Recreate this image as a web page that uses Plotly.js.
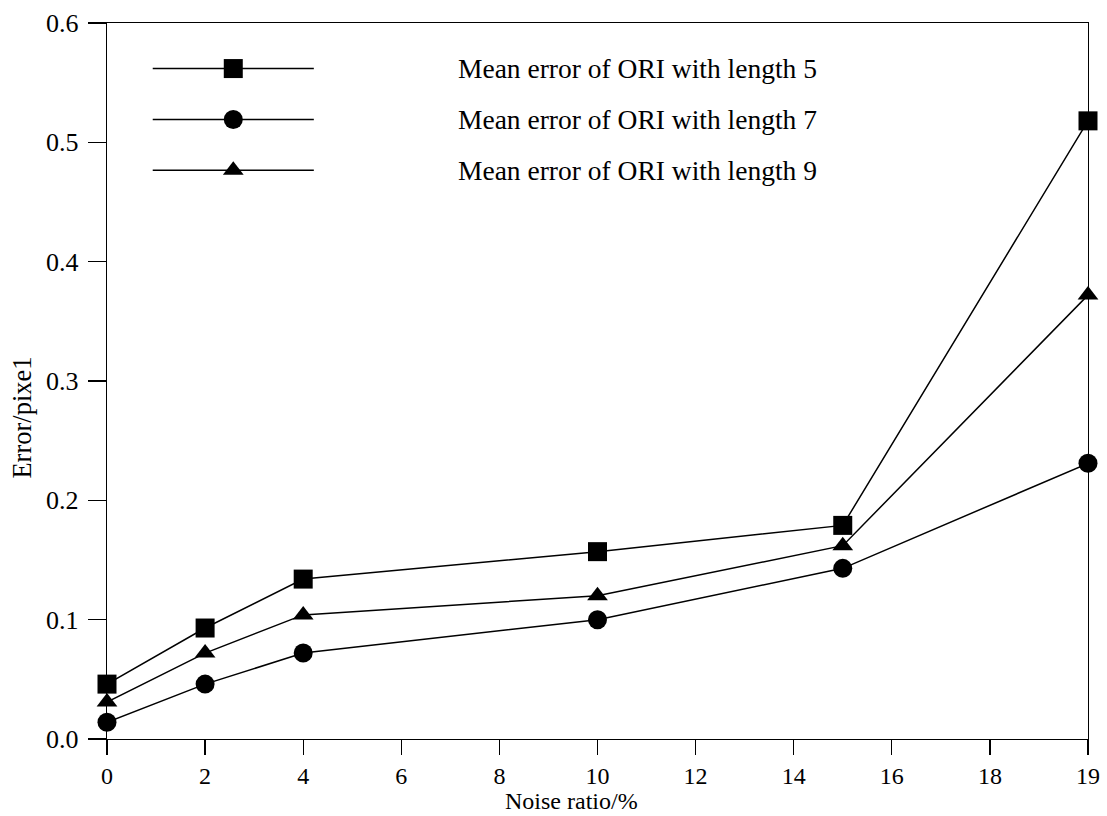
<!DOCTYPE html>
<html>
<head>
<meta charset="utf-8">
<script src="https://cdn.plot.ly/plotly-3.0.1.min.js"></script>
<style>html,body{margin:0;padding:0;background:#fff;}#chart{width:1107px;height:816px;}</style>
</head>
<body>
<div id="chart"></div>
<script>
// Axis slots of the noise ratios (the last slot is labelled 19 on the original axis)
const noisePos = [0, 2, 4, 10, 15, 20];
const tickVals = [0, 2, 4, 6, 8, 10, 12, 14, 16, 18, 20];
const tickText = ['0', '2', '4', '6', '8', '10', '12', '14', '16', '18', '19'];
const yTickVals = [0, 0.1, 0.2, 0.3, 0.4, 0.5, 0.6];
const yTickText = ['0.0', '0.1', '0.2', '0.3', '0.4', '0.5', '0.6'];

const seriesNames = ['Mean error of ORI with length 5', 'Mean error of ORI with length 7', 'Mean error of ORI with length 9'];
const errLen5 = [0.046, 0.093, 0.134, 0.157, 0.179, 0.518];
const errLen7 = [0.014, 0.046, 0.072, 0.100, 0.143, 0.231];
const errLen9 = [0.031, 0.072, 0.104, 0.120, 0.162, 0.372];
const symbols = ['square', 'circle', 'triangle-up'];

const FONT = 'Liberation Serif';
const W = 1107, H = 816;
const M = {l: 107.3, r: 19.3, t: 22.7, b: 76.7};

const seriesData = [errLen5, errLen7, errLen9];
const markerSizes = [19, 19, 18];

const traces = seriesData.map((ys, i) => ({
  type: 'scatter', mode: 'lines+markers',
  x: noisePos, y: ys, name: seriesNames[i],
  line: {color: '#000', width: 1.5},
  marker: {symbol: symbols[i], size: markerSizes[i], color: '#000', line: {width: 0}},
  cliponaxis: false, showlegend: false
}));

// Custom legend (long line samples) drawn on an overlay axis measured in pixels
const legendRows = [68.3, 119.3, 170];
const legLineX = [153, 314];
const legMarkX = 233.5;
seriesNames.forEach((n, i) => {
  traces.push({
    type: 'scatter', mode: 'lines', xaxis: 'x2', yaxis: 'y2',
    x: legLineX, y: [legendRows[i], legendRows[i]],
    line: {color: '#000', width: 1.5},
    cliponaxis: false, showlegend: false, hoverinfo: 'skip'
  });
  traces.push({
    type: 'scatter', mode: 'markers', xaxis: 'x2', yaxis: 'y2',
    x: [legMarkX], y: [legendRows[i]],
    marker: {symbol: symbols[i], size: markerSizes[i], color: '#000', opacity: 1, line: {width: 0}},
    cliponaxis: false, showlegend: false, hoverinfo: 'skip'
  });
});

const annotations = seriesNames.map((n, i) => ({
  xref: 'x2', yref: 'y2', x: 456, y: legendRows[i], text: n,
  showarrow: false, xanchor: 'left', yanchor: 'middle',
  font: {family: FONT, size: 27.5, color: '#000'}
}));
annotations.push({
  xref: 'paper', yref: 'paper', x: (572 - M.l) / (W - M.l - M.r), y: -(801.5 - (H - M.b)) / (H - M.t - M.b),
  text: 'Noise ratio/%', showarrow: false, xanchor: 'center', yanchor: 'middle',
  font: {family: FONT, size: 24, color: '#000'}, borderpad: 0
});
annotations.push({
  xref: 'paper', yref: 'paper', x: -(M.l - 22) / (W - M.l - M.r), y: 1 - (418 - M.t) / (H - M.t - M.b),
  text: 'Error/pixe1', textangle: -90, showarrow: false, xanchor: 'center', yanchor: 'middle',
  font: {family: FONT, size: 26.5, color: '#000'}
});

const layout = {
  width: W, height: H,
  margin: {l: M.l, r: M.r, t: M.t, b: M.b, pad: 0},
  paper_bgcolor: '#fff', plot_bgcolor: '#fff',
  font: {family: FONT, size: 26, color: '#000'},
  showlegend: false,
  xaxis: {
    range: [0, 20], tickmode: 'array', tickvals: tickVals, ticktext: tickText,
    showgrid: false, zeroline: false, showline: true, linecolor: '#000', linewidth: 1.3,
    mirror: true, ticks: 'outside', ticklen: 15, tickwidth: 1.3, tickcolor: '#000',
    tickfont: {family: FONT, size: 24, color: '#000'}, ticklabelstandoff: 0
  },
  yaxis: {
    range: [0, 0.6], tickmode: 'array', tickvals: yTickVals, ticktext: yTickText,
    showgrid: false, zeroline: false, showline: true, linecolor: '#000', linewidth: 1.3,
    mirror: true, ticks: 'outside', ticklen: 18, tickwidth: 1.3, tickcolor: '#000',
    tickfont: {family: FONT, size: 26, color: '#000'}, ticklabelstandoff: 4
  },
  xaxis2: {overlaying: 'x', range: [M.l, W - M.r], visible: false, fixedrange: true},
  yaxis2: {overlaying: 'y', range: [H - M.b, M.t], visible: false, fixedrange: true},
  annotations: annotations
};

Plotly.newPlot('chart', traces, layout, {displayModeBar: false, staticPlot: true});
</script>
</body>
</html>
